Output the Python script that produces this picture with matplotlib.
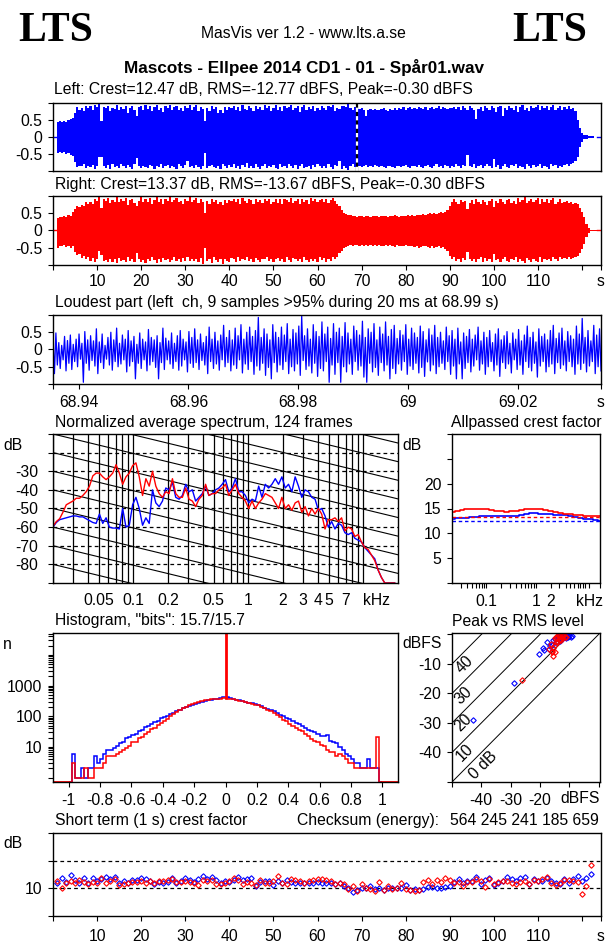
import numpy as np
import matplotlib
matplotlib.use("Agg")
import matplotlib.pyplot as plt

plt.rcParams['font.family'] = ['Liberation Sans', 'DejaVu Sans']
plt.rcParams['axes.unicode_minus'] = False
plt.rcParams['axes.linewidth'] = 1.0
plt.rcParams['xtick.major.width'] = 0.8
plt.rcParams['ytick.major.width'] = 0.8
plt.rcParams['xtick.minor.width'] = 0.8
plt.rcParams['ytick.minor.width'] = 0.8

W, H = 606, 946
FS = 11.3

# waveform envelopes, percent of full scale, two readings per second from 1 s
left_top = [44,46,43,47,45,50,52,55,72,88,80,85,76,92,84,90,79,93,88,96,
            48,88,84,92,76,86,81,95,79,88,83,90,70,86,90,78,62,88,92,80,
            94,82,90,76,88,93,80,86,74,91,84,95,78,88,92,80,86,77,90,84,
            93,79,87,94,75,89,82,47,86,76,92,83,88,72,80,70,88,78,88,84,
            92,80,88,76,94,83,78,90,86,75,91,82,88,79,93,85,90,77,86,94,
            80,89,76,92,84,88,95,78,86,90,74,87,93,80,88,83,91,76,86,80,
            92,84,78,90,87,95,75,86,82,92,90,88,96,85,78,88,70,82,84,80,
            63,80,82,78,83,80,78,82,84,80,77,82,79,84,78,86,82,88,80,85,
            88,83,86,82,88,85,83,87,80,84,88,82,86,90,83,88,85,82,86,84,
            88,83,87,80,90,84,78,92,86,80,52,82,88,76,92,84,78,90,86,74,
            88,92,62,86,80,92,84,78,90,74,88,94,80,86,76,92,84,88,95,78,
            90,84,92,80,88,94,78,86,92,80,88,83,90,82,84,76,50,26,13,7]
left_bot = [48,44,46,43,50,46,53,56,75,87,84,86,80,90,84,88,82,93,86,60,
            58,86,90,82,95,80,88,84,92,78,86,90,82,88,94,80,63,86,90,84,
            88,92,82,86,94,84,88,78,90,86,82,92,84,88,95,80,86,92,82,70,
            88,86,90,82,88,94,84,48,92,86,82,88,90,84,94,80,86,92,82,88,
            78,90,86,94,82,88,76,92,85,90,80,88,94,84,78,92,86,88,82,90,
            94,80,88,84,92,78,86,90,82,94,86,80,92,88,84,95,82,88,78,86,
            92,84,90,80,88,94,82,86,72,95,84,90,96,86,80,88,70,84,88,85,
            82,87,85,88,83,86,89,85,88,90,86,84,88,92,86,84,88,85,82,88,
            90,86,84,88,83,87,90,85,82,88,92,86,80,88,84,90,82,86,92,84,
            88,80,86,92,82,84,52,84,88,80,90,86,82,92,84,78,86,90,64,88,
            82,94,84,80,88,92,82,86,78,90,84,88,94,80,86,92,82,88,85,78,
            90,84,88,94,80,86,82,90,84,88,82,78,84,80,76,72,60,30,14,7]
right_top = [36,40,38,43,40,46,42,55,62,72,68,75,70,82,76,84,78,92,86,96,
             64,90,86,95,80,88,84,96,82,90,86,94,74,88,92,80,70,86,96,84,
             90,82,94,78,88,96,84,90,78,92,86,96,82,88,94,84,86,78,92,86,
             96,82,88,94,80,90,84,52,86,78,90,84,88,76,84,74,88,80,88,86,
             92,82,90,78,94,86,80,92,88,78,90,84,88,80,92,86,90,78,84,92,
             80,90,76,92,88,84,94,80,86,90,78,92,84,88,78,94,86,90,82,88,
             90,84,92,80,88,94,86,78,70,60,52,47,46,44,43,42,40,42,41,40,
             41,42,40,41,43,41,40,42,41,43,40,42,41,44,42,40,43,41,42,44,
             42,45,43,44,46,44,47,45,48,50,47,52,48,50,53,50,55,58,72,82,
             90,84,78,88,82,86,62,80,88,76,90,84,78,88,82,74,86,90,68,86,
             80,92,84,78,88,92,80,86,76,94,84,88,96,80,86,92,82,88,94,78,
             90,84,92,80,88,94,78,84,90,80,84,86,80,84,78,80,76,66,54,40]
right_bot = [50,44,46,42,48,44,50,46,62,72,68,80,74,84,78,88,80,90,84,60,
             70,88,86,92,82,90,84,94,80,88,86,92,78,88,82,90,64,84,90,86,
             94,82,88,78,86,94,84,90,80,86,82,92,86,78,88,84,92,80,88,76,
             88,84,88,82,92,80,96,52,88,82,94,78,86,90,84,96,82,88,92,80,
             84,90,78,88,82,86,76,88,84,92,80,86,90,82,84,78,88,82,90,84,
             80,88,84,92,78,86,90,80,82,88,84,92,78,86,90,82,88,84,92,78,
             86,80,92,84,88,78,82,76,66,58,50,47,44,42,45,43,41,44,42,45,
             42,44,41,45,43,46,42,44,45,43,46,42,44,47,43,45,46,44,42,45,
             46,44,48,45,50,47,46,44,48,52,46,50,48,45,52,48,54,60,74,84,
             78,88,84,92,80,86,62,84,88,82,90,84,78,92,80,88,84,90,68,86,
             82,92,84,78,88,90,82,86,78,92,84,88,94,80,86,90,82,88,90,76,
             90,84,86,82,88,78,84,88,76,82,80,84,78,84,80,78,74,66,54,40]
left_tail = [5, 4, 3, 2, 1, 1]
right_tail = [20, 6, 2, 1, 1, 1]

# loudest part, hundredths, one pair per spike
loud_hi = [35,48,20,12,38,26,42,15,30,45,18,52,28,40,25,60,22,45,12,35,
           50,28,62,18,42,30,55,25,38,15,48,30,22,58,35,28,40,20,62,33,
           25,48,18,40,55,30,22,52,35,60,28,45,20,38,65,30,50,25,42,70,
           35,55,28,62,40,72,30,50,65,38,55,93,35,60,45,28,72,50,35,65,
           42,75,30,58,48,68,97,40,60,30,72,52,38,80,45,65,32,75,50,62,
           38,78,48,30,68,55,42,82,35,60,50,75,28,65,45,80,38,58,70,32,
           55,42,72,30,62,48,35,68,52,28,60,42,70,35,50,25,65,40,55,30,
           62,22,48,38,58,30,42,65,25,50,35,55,20,45,60,28,40,52,18,48,
           30,58,25,42,68,35,50,22,60,38,45,28,55,70,32,48,62,25,52,40,
           30,68,45,90,35,55,25,70,42,60]
loud_lo = [70,45,55,30,62,40,58,35,50,28,95,40,60,32,48,70,38,55,28,45,
           60,35,50,42,30,65,48,35,85,40,55,30,62,45,35,52,85,38,58,30,
           42,55,35,60,48,30,65,40,52,38,58,32,45,70,35,55,42,60,30,50,
           38,62,45,55,30,68,42,58,35,72,48,60,40,75,52,85,38,65,45,58,
           35,70,50,62,42,75,32,58,48,68,40,78,55,62,35,95,45,72,38,95,
           50,65,42,72,35,60,48,80,95,40,65,52,75,38,62,45,85,55,70,42,
           60,35,72,48,58,40,68,52,78,36,62,45,70,50,40,58,35,72,48,85,
           42,85,55,38,65,48,30,60,42,72,50,35,62,45,78,38,55,42,68,30,
           58,45,72,35,52,62,40,80,48,35,65,50,42,70,38,55,45,62,35,50,
           72,42,58,40,65,48,35,70,50,62]

# spectrum in dB, equal steps on the log frequency axis, 20 Hz to 20 kHz
spec_red = [-59.5,-57,-55.5,-52,-48,-47,-46,-44.5,-44.5,-43,-41,-38,-32.5,-31,-31,-33,-34.5,-33,-31,-26.5,
            -31,-37,-33,-31,-27,-25.5,-33,-43,-34,-38,-30,-38,-42,-44,-41,-42,-34,-42,-44,-44,
            -39,-45,-46,-49,-45,-43,-37,-43,-42,-42,-40,-39,-37,-43,-40,-37,-42,-44,-46,-50,
            -46,-50,-47,-45,-42,-43,-44,-47,-50,-44,-50,-48,-51,-47,-46,-52,-49,-54,-50,-53,
            -50,-53,-61,-56,-56,-55,-57,-55,-62,-60,-61,-65,-64,-68,-71,-72,-75,-78,-83,-87,
            -90,-90,-90,-90]
spec_blue = [-60,-57.5,-56,-55.5,-55,-54.5,-54,-54,-54.5,-54.5,-55.5,-56.5,-57.5,-58,-53,-58,-55,-60,-60.5,-60.5,
             -61,-50,-60,-59,-48,-44,-50,-59,-55,-58,-40,-47,-49,-46,-39,-40,-36,-44,-45,-43,
             -37,-41,-40,-46,-44,-42,-38,-43,-42,-40,-39,-37,-34.5,-41,-39,-34,-41,-41,-43,-47,
             -45,-46,-38,-44,-37,-39,-37,-34,-37,-33,-39,-37,-41,-33,-38,-44,-40,-41,-44,-45,
             -51,-50,-54,-60,-57,-61,-58,-59,-63,-64,-63,-66,-67,-68,-71,-73,-75,-77,-83,-87,
             -90,-90,-90,-90]
spec_ticks = [0.05, 0.1, 0.2, 0.5, 1, 2, 3, 4, 5, 7]
spec_lines = [0.02, 0.03, 0.04, 0.05, 0.06, 0.07, 0.08, 0.09, 0.1, 0.2, 0.3, 0.4, 0.5,
              0.6, 0.7, 0.8, 0.9, 1, 2, 3, 4, 5, 6, 7, 8, 9, 10]

# allpassed crest factor
ap_red = [14.3,14.5,14.6,14.8,14.9,15.0,14.9,14.8,14.7,14.5,14.4,14.3,14.4,14.5,14.6,14.8,
          14.9,15.0,14.8,14.6,14.4,14.2,14.0,13.9,13.8,13.7,13.6,13.5,13.5,13.5,13.5]
ap_blue = [12.9,13.0,13.1,13.1,13.3,13.3,13.4,13.4,13.4,13.4,13.4,13.4,13.4,13.5,13.7,13.8,
           14.0,14.0,13.9,13.8,13.8,13.7,13.6,13.6,13.4,13.2,13.1,12.9,12.8,12.7,12.5]
crest_left, crest_right = 12.47, 13.37

# histogram, bins of 0.02 from -1 to 1
hist_blue = [.7,6,1,1,2,1,2,2,5,3,4,6,8,8,9,11,13,15,20,21,24,27,34,36,45,50,58,64,72,85,
             92,105,115,130,145,160,180,195,215,235,255,275,295,315,335,350,365,375,385,420,
             430,390,370,345,330,310,295,280,265,250,230,210,190,175,160,145,125,110,100,90,
             82,72,62,55,50,42,37,32,30,27,23,22,24,16,15,13,10,8,6,5,4,3,3,2,2,4,2,2,2,.7]
hist_red = [.7,3,1,1,1,2,1,1,2,2,2,3,5,5,5,6,7,8,9,11,14,15,19,21,27,30,38,42,52,62,
            70,82,100,118,135,160,180,200,225,250,270,290,310,330,350,360,370,372,375,390,
            380,370,360,345,325,310,290,275,255,240,225,200,180,165,150,125,108,92,75,68,
            55,50,40,36,32,26,22,18,16,14,12,11,8,7,7,5,6,5,4,3,3,2,2,2,2,2,2,2,21,.7]
hist_zero = 60000
hist_ticks = [-1, -0.8, -0.6, -0.4, -0.2, 0, 0.2, 0.4, 0.6, 0.8, 1]
hist_labels = ['-1', '-0.8', '-0.6', '-0.4', '-0.2', '0', '0.2', '0.4', '0.6', '0.8', '1']

# peak vs rms
pr_blue_rms = [-43,-29,-20.2,-19,-18.5,-17.7,-17,-16.5,-16,-15.5,-15,-14.5,-14,-13.5,-13,-12.5,-12.2,-12,-11.5,-11,-10.5,-10,-9.5,-9.2,-13,-12,-14,-11]
pr_blue_peak = [-29,-16.6,-6.5,-4.6,-5.2,-2.7,-5,-4,-3.5,-2,-1.5,-2.5,-1.2,-1,-0.8,-1.5,-0.6,-1,-0.5,-1.2,-0.8,-0.5,-0.9,-0.4,-2.2,-0.3,-0.5,-0.4]
pr_red_rms = [-26.1,-15.5,-16.9,-16.3,-15.4,-15.8,-16,-15,-14.6,-14.8,-14.2,-14,-13.6,-13.5,-13,-13.2,-12.6,-12.4,-12,-11.6,-11,-15,-14.4,-13.8,-12.8,-12.2]
pr_red_peak = [-15.3,-7.2,-4.9,-3.2,-4.7,-6,-5.5,-5.8,-2.7,-3.5,-1,-2.4,-0.6,-1.8,-0.5,-1.4,-0.4,-1.2,-0.3,-1,-0.7,-1.2,-0.8,-0.3,-2,-0.5]

# short term crest factor, one value per second
st_blue = [12,13.8,12.4,14.8,13,12.1,13.8,11.8,13.8,12.6,
           13.3,14.2,13.3,14.2,11.8,12.6,12.1,12.9,12.9,13.6,
           13.2,12.6,11.7,12.3,12.1,12.3,13.9,12.1,12.5,13.6,
           12.9,12.3,13.3,14.3,13.2,14,13,11.8,12.6,12.2,
           13,14,13.1,13.4,13.9,11,12.2,12.5,12.5,11.3,
           12.5,12,12.9,12.4,12.1,12.1,12,11.9,12.1,12.3,
           12,12.1,11.9,11.5,11.8,11,10.2,8.8,9.5,10,
           10.2,10.7,9.6,10,9.4,10,10.3,10.1,10,11.1,
           9.3,9.6,9.4,9.8,10.5,10.4,10.2,10,10.5,11,
           12.2,13.3,12,12.7,12.5,14.2,11.7,13,13.9,11.2,
           12,12.6,14.2,13.2,12.5,13.6,14,11.6,13.4,12.5,
           12.8,13.6,12.5,12,11.7,13.5,11.8,13.2,14.6,12.8,
           13.7,15.2]
st_red = [12.5,10,12,12.5,12,13,12.3,11.4,12.2,12,
          13.7,11.9,12.7,13.2,11.3,11.7,12,12.3,12.3,12.7,
          12,12.6,11.8,12.6,12.6,12.9,13.4,12.3,12.3,12.8,
          12.2,12,11.3,13,12.7,13,11.6,11.6,11.9,12.6,
          13.6,13,11.5,12.2,12,11.2,13,12.1,12.1,12.8,
          14.6,11.9,11.6,13.5,13.1,12.5,11.8,12.8,13,13.3,
          13.3,13,12.6,11.5,12,11.7,9.8,11,9.2,11.4,
          10.2,9.7,9.2,12.3,9.3,10.7,9.6,10.2,11.8,9.7,
          9.5,9,9.5,12.2,13,11.5,13,12.2,13.9,13,
          11.8,12.3,10.8,12.3,12.4,13.3,12.8,10.5,13.3,11.7,
          12.2,12.6,12.6,11.9,11.6,12.2,12.6,11.5,13.1,12.7,
          13.2,14.2,11.8,11.2,11.8,13,13,12.8,12.4,8,
          10.8,18.3]

time_end = 124.3
time_ticks = list(range(0, 121, 10)) + [time_end]
time_labels = [''] + [str(v) for v in range(10, 111, 10)] + ['', 's']
MS = 2.8


def make_ax(fig, l, t, r, b):
    ax = fig.add_axes([l / W, 1 - b / H, (r - l) / W, (b - t) / H])
    ax.tick_params(which='major', length=3.6, labelsize=FS)
    ax.tick_params(which='minor', length=3.6)
    ax.tick_params(axis='y', pad=4)
    return ax


def put(fig, x, y, s, **kw):
    kw.setdefault('fontsize', FS)
    kw.setdefault('va', 'center')
    fig.text(x / W, 1 - y / H, s, **kw)


def wave(ax, top, bot, tail, color):
    top = np.array(top + tail) / 100
    bot = np.array(bot + tail) / 100
    t = 1 + 0.5 * np.arange(len(top))
    ax.fill_between(t, top, -bot, color=color, lw=0, step='mid')
    ax.plot([0, 1], [0, 0], color=color, lw=1)
    ax.plot([t[-1], time_end], [0, 0], color=color, lw=1)
    ax.set_xlim(0, time_end)
    ax.set_ylim(-1, 1)
    ax.set_yticks([-1, -0.5, 0, 0.5, 1], ['', '-0.5', '0', '0.5', ''])


fig = plt.figure(figsize=(W / 100, H / 100), dpi=100)

put(fig, 18, 31, 'LTS', family='Liberation Serif', weight='bold', fontsize=30)
put(fig, 512, 31, 'LTS', family='Liberation Serif', weight='bold', fontsize=30)
put(fig, 303, 34, 'MasVis ver 1.2 - www.lts.a.se', ha='center')
put(fig, 304, 68, 'Mascots - Ellpee 2014 CD1 - 01 - Spår01.wav', ha='center', weight='bold', fontsize=12.3)
put(fig, 54, 90, 'Left: Crest=12.47 dB, RMS=-12.77 dBFS, Peak=-0.30 dBFS')
put(fig, 55, 184, 'Right: Crest=13.37 dB, RMS=-13.67 dBFS, Peak=-0.30 dBFS')
put(fig, 55, 303, 'Loudest part (left  ch, 9 samples >95% during 20 ms at 68.99 s)')
put(fig, 55, 422, 'Normalized average spectrum, 124 frames')
put(fig, 451, 422, 'Allpassed crest factor')
put(fig, 55, 621, 'Histogram, "bits": 15.7/15.7')
put(fig, 452, 621, 'Peak vs RMS level')
put(fig, 55, 820, 'Short term (1 s) crest factor')
put(fig, 297, 820, 'Checksum (energy):')
put(fig, 599, 820, '564 245 241 185 659', ha='right')
put(fig, 3, 445, 'dB')
put(fig, 402, 445, 'dB')
put(fig, 3, 644, 'n')
put(fig, 402, 643, 'dBFS')
put(fig, 3, 843, 'dB')

# left channel
ax = make_ax(fig, 53, 103, 601, 171)
wave(ax, left_top, left_bot, left_tail, 'blue')
ax.axvline(68.99, color='black', lw=1.6)
ax.axvline(68.99, color='white', lw=1.6, dashes=(1.9, 1.9))
ax.set_xticks([])

# right channel
ax = make_ax(fig, 53, 196, 601, 265)
wave(ax, right_top, right_bot, right_tail, 'red')
ax.set_xticks(time_ticks, time_labels)
ax.tick_params(axis='x', pad=3)

# loudest part
ax = make_ax(fig, 53, 315, 601, 384)
t_start, t_end = 68.9353, 69.0352
xs = np.linspace(t_start, t_end, 2 * len(loud_hi))
ys = np.column_stack([np.array(loud_hi), -np.array(loud_lo)]).ravel() / 100
ax.plot(xs, ys, color='blue', lw=0.9)
ax.set_xlim(t_start, t_end)
ax.set_ylim(-1, 1)
ax.set_yticks([-1, -0.5, 0, 0.5, 1], ['', '-0.5', '0', '0.5', ''])
ax.set_xticks([t_start, 68.94, 68.96, 68.98, 69, 69.02, t_end], ['', '68.94', '68.96', '68.98', '69', '69.02', 's'])
ax.tick_params(axis='x', pad=4.5)

# spectrum
ax = make_ax(fig, 53, 434, 398, 583)
f = np.geomspace(0.02, 20, len(spec_red) + 1)[:-1]
for v in spec_lines:
    ax.axvline(v, color='black', lw=0.9)
for v in range(-80, -10, 10):
    ax.axhline(v, color='black', lw=0.9, dashes=(3, 2.5))
grid_f = np.array([0.02, 20])
for c in range(-80, 50, 10):
    ax.plot(grid_f, c - 4.5 * np.log2(grid_f / 0.02), color='black', lw=0.8)
ax.plot(f, spec_blue, color='blue', lw=1)
ax.plot(f, spec_red, color='red', lw=1)
ax.set_xscale('log')
ax.set_xlim(0.02, 20)
ax.set_ylim(-90, -10)
ax.set_yticks(range(-90, -9, 10), ['', '-80', '-70', '-60', '-50', '-40', '-30', '', ''])
ax.set_xticks(spec_ticks + [13], ['0.05', '0.1', '0.2', '0.5', '1', '2', '3', '4', '5', '7', 'kHz'])
ax.minorticks_off()
ax.tick_params(axis='x', length=0, pad=7)
ax.tick_params(axis='y', pad=7)

# allpassed crest
ax = make_ax(fig, 452, 434, 600, 583)
f_ap = np.geomspace(0.02, 20, len(ap_red))
ax.step(f_ap, ap_blue, where='mid', color='blue', lw=1.2)
ax.step(f_ap, ap_red, where='mid', color='red', lw=1.2)
ax.axhline(crest_left, color='blue', lw=1, dashes=(2.5, 2))
ax.axhline(crest_right, color='red', lw=1, dashes=(2.5, 2))
ax.set_xscale('log')
ax.set_xlim(0.02, 20)
ax.set_ylim(0, 30)
ax.set_yticks(range(0, 31, 5), ['', '5', '10', '15', '20', '', ''])
ax.set_xticks([0.1, 1, 2, 12], ['0.1', '1', '2', 'kHz'])
minor = [0.03, 0.04, 0.05, 0.06, 0.07, 0.08, 0.09, 0.2, 0.3, 0.4, 0.5, 0.6, 0.7, 0.8, 0.9, 3, 4, 5, 6, 7, 8, 9, 10, 20]
ax.set_xticks(minor, minor=True)
ax.set_xticklabels([], minor=True)
ax.tick_params(axis='x', pad=4)

# histogram
ax = make_ax(fig, 53, 633, 398, 782)
edges = np.linspace(-1, 1, len(hist_blue) + 1)
base = 0.72
ax.plot([-1.1, -1], [base, base], color='red', lw=1.3)
ax.plot([1, 1.1], [base, base], color='red', lw=1.3)
ax.stairs(hist_blue, edges, color='blue', lw=1.1, baseline=None)
ax.stairs(hist_red, edges, color='red', lw=1.1, baseline=None)
ax.vlines(0, hist_red[50], hist_zero, color='red', lw=2)
ax.set_yscale('log')
ax.set_xlim(-1.1, 1.1)
ax.set_ylim(base, 52000)
ax.set_yticks([10, 100, 1000], ['10', '100', '1000'])
ax.set_yticks([v * d for d in (1, 10, 100, 1000, 10000) for v in range(1, 10) if v * d < 52000 and v * d not in (10, 100, 1000)], minor=True)
ax.set_yticklabels([], minor=True)
ax.set_xticks(hist_ticks, hist_labels)
ax.tick_params(axis='x', pad=4.5)

# peak vs rms
ax = make_ax(fig, 452, 633, 600, 782)
for k in (0, 10, 20, 30, 40):
    ax.plot([-50, 0.5], [-50 + k, 0.5 + k], color='black', lw=0.7)
ax.plot(pr_blue_rms, pr_blue_peak, ls='none', marker='D', ms=MS, mfc='none', mec='blue', mew=0.8)
ax.plot(pr_red_rms, pr_red_peak, ls='none', marker='D', ms=MS, mfc='none', mec='red', mew=0.8)
ax.set_xlim(-50, 0.5)
ax.set_ylim(-50, 0.5)
ax.set_xticks([-50, -40, -30, -20, -10, 0], ['', '-40', '-30', '-20', '', ''])
ax.set_yticks([-50, -40, -30, -20, -10, 0], ['', '-40', '-30', '-20', '-10', ''])
ax.tick_params(axis='x', pad=4)
for lab, x, y in [('0 dB', -39.3, -44.5), ('10', -45.8, -40), ('20', -46, -30), ('30', -46, -20.6), ('40', -45.8, -10.3)]:
    ax.text(x, y, lab, rotation=45, ha='center', va='center', fontsize=FS)
put(fig, 560, 798, 'dBFS', ha='left', va='center')

# short term crest
ax = make_ax(fig, 53, 833, 601, 916)
sec = np.arange(1, len(st_blue) + 1)
ax.axhline(10, color='black', lw=0.9, dashes=(3, 2.5))
ax.axhline(20, color='black', lw=0.9, dashes=(3, 2.5))
ax.plot(sec, st_blue, ls='none', marker='D', ms=MS, mfc='none', mec='blue', mew=0.8)
ax.plot(sec, st_red, ls='none', marker='D', ms=MS, mfc='none', mec='red', mew=0.8)
ax.set_xlim(0, time_end)
ax.set_ylim(0, 30)
ax.set_yticks([0, 10, 20, 30], ['', '10', '', ''])
ax.set_xticks(time_ticks, time_labels)
ax.tick_params(axis='x', pad=6)

fig.savefig('out.png', dpi=100)
